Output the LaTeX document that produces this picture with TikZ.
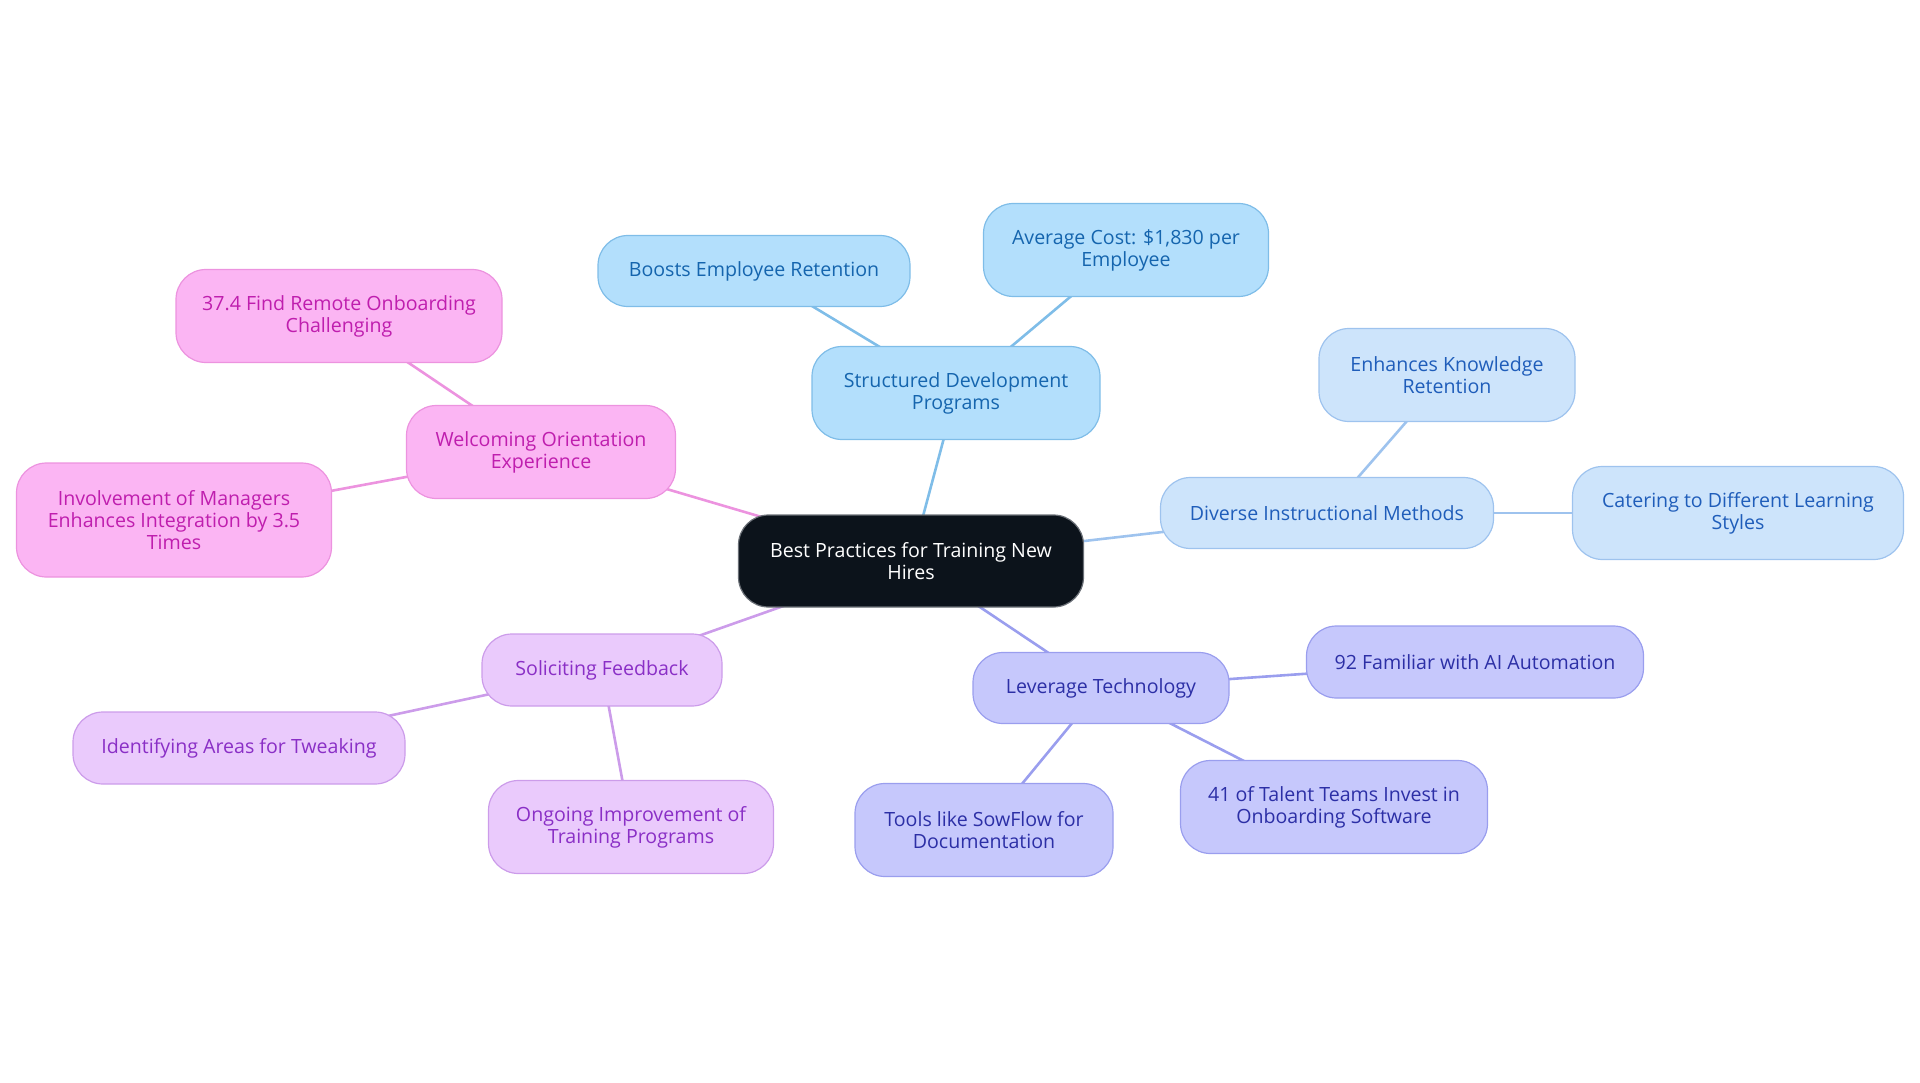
\documentclass[tikz,border=0pt]{standalone}
\usepackage{fontspec}
\setmainfont{Open Sans}
\usetikzlibrary{positioning,backgrounds}

%% branch colours
\definecolor{rootfill}{HTML}{0C131B}
\definecolor{rootline}{HTML}{6B7077}
\definecolor{skyfill}{HTML}{B3DFFC}
\definecolor{skyline}{HTML}{7FBDE8}
\definecolor{skytext}{HTML}{1565AE}
\definecolor{icefill}{HTML}{CDE4FB}
\definecolor{iceline}{HTML}{9EC3EE}
\definecolor{icetext}{HTML}{1F5DBA}
\definecolor{lavfill}{HTML}{C6C8FC}
\definecolor{lavline}{HTML}{9A9EEE}
\definecolor{lavtext}{HTML}{2C2FA6}
\definecolor{lilfill}{HTML}{EACAFC}
\definecolor{lilline}{HTML}{CC9CEA}
\definecolor{liltext}{HTML}{8A2FC6}
\definecolor{pinkfill}{HTML}{FBB5F3}
\definecolor{pinkline}{HTML}{EC93DF}
\definecolor{pinktext}{HTML}{BF1EAE}

\tikzset{
  mmbox/.style={draw, rounded corners=30pt, line width=1.2pt, align=center,
    inner sep=0pt, font=\fontsize{19.6}{22}\selectfont},
  rootbox/.style={mmbox, fill=rootfill, draw=rootline, text=white},
  skybox/.style={mmbox, fill=skyfill, draw=skyline, text=skytext},
  icebox/.style={mmbox, fill=icefill, draw=iceline, text=icetext},
  lavbox/.style={mmbox, fill=lavfill, draw=lavline, text=lavtext},
  lilbox/.style={mmbox, fill=lilfill, draw=lilline, text=liltext},
  pinkbox/.style={mmbox, fill=pinkfill, draw=pinkline, text=pinktext},
  link/.style={line width=2.6pt},
  sz/.style 2 args={minimum width=#1pt, minimum height=#2pt}
}

\begin{document}
\begin{tikzpicture}[x=1pt,y=-1pt]
\useasboundingbox (0,0) rectangle (1920,1083);
%% root
\node[rootbox, sz={345}{92}] (root) at (911,561) {Best Practices for Training New\\Hires};
%% structured development
\node[skybox, sz={288}{93}] (struct) at (956,393) {Structured Development\\Programs};
\node[skybox, sz={312}{71}] (boosts) at (754,271) {Boosts Employee Retention};
\node[skybox, sz={285}{93}] (cost) at (1126,250) {Average Cost: \$1,830 per\\Employee};
%% instructional methods
\node[icebox, sz={333}{71}] (diverse) at (1327,513) {Diverse Instructional Methods};
\node[icebox, sz={256}{93}] (knowl) at (1447,375) {Enhances Knowledge\\Retention};
\node[icebox, sz={331}{93}] (styles) at (1738,513) {Catering to Different Learning\\Styles};
%% technology
\node[lavbox, sz={256}{71}] (tech) at (1101,688) {Leverage Technology};
\node[lavbox, sz={337}{72}] (ai) at (1475,662) {92 Familiar with AI Automation};
\node[lavbox, sz={307}{93}] (talent) at (1334,807) {41 of Talent Teams Invest in\\Onboarding Software};
\node[lavbox, sz={258}{93}] (tools) at (984,830) {Tools like SowFlow for\\Documentation};
%% feedback
\node[lilbox, sz={240}{72}] (feedb) at (602,670) {Soliciting Feedback};
\node[lilbox, sz={332}{72}] (tweak) at (239,748) {Identifying Areas for Tweaking};
\node[lilbox, sz={285}{93}] (ongoing) at (631,827) {Ongoing Improvement of\\Training Programs};
%% orientation
\node[pinkbox, sz={269}{93}] (welcome) at (541,452) {Welcoming Orientation\\Experience};
\node[pinkbox, sz={326}{93}] (remote) at (339,316) {37.4 Find Remote Onboarding\\Challenging};
\node[pinkbox, sz={315}{114}] (manag) at (174,520) {Involvement of Managers\\Enhances Integration by 3.5\\Times};

%% connectors
\begin{scope}[on background layer]
\foreach \a/\b/\c in {root/struct/skyline, struct/boosts/skyline, struct/cost/skyline,
    root/diverse/iceline, diverse/knowl/iceline, diverse/styles/iceline,
    root/tech/lavline, tech/ai/lavline, tech/talent/lavline, tech/tools/lavline,
    root/feedb/lilline, feedb/tweak/lilline, feedb/ongoing/lilline,
    root/welcome/pinkline, welcome/remote/pinkline, welcome/manag/pinkline} {
  \draw[link, \c] (\a.center) -- (\b.center);
}
\end{scope}
\end{tikzpicture}
\end{document}
